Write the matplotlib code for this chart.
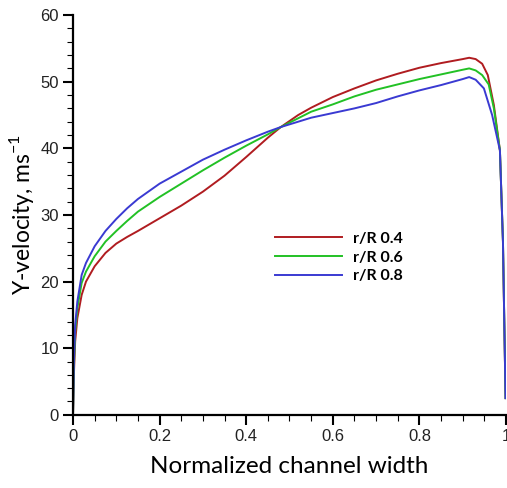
import numpy as np
import matplotlib
matplotlib.use("Agg")
import matplotlib.pyplot as plt
from matplotlib.ticker import MultipleLocator

plt.rcParams["mathtext.fontset"] = "custom"
plt.rcParams["mathtext.rm"] = "Lato"

# normalized channel width positions and Y-velocity (m/s)
x_r = [0, 0.002, 0.005, 0.01, 0.02, 0.03, 0.05, 0.075, 0.1, 0.125, 0.15, 0.2,
       0.25, 0.3, 0.35, 0.4, 0.45, 0.48, 0.52, 0.55, 0.6, 0.65, 0.7, 0.75,
       0.8, 0.85, 0.9, 0.915, 0.93, 0.945, 0.958, 0.972, 0.986, 0.993, 0.999]
v_r04 = [0, 6, 11, 14.5, 18, 20, 22.3, 24.3, 25.7, 26.7, 27.6, 29.5,
         31.4, 33.5, 35.9, 38.7, 41.6, 43.2, 45.0, 46.1, 47.7, 49.0, 50.2, 51.2,
         52.1, 52.8, 53.4, 53.6, 53.4, 52.7, 51.0, 46.5, 39.7, 26.0, 2.5]

x_g = [0, 0.002, 0.005, 0.01, 0.02, 0.03, 0.05, 0.075, 0.1, 0.125, 0.15, 0.2,
       0.25, 0.3, 0.35, 0.4, 0.45, 0.48, 0.55, 0.6, 0.65, 0.7, 0.75, 0.8,
       0.85, 0.9, 0.915, 0.93, 0.945, 0.96, 0.972, 0.986, 0.993, 0.999]
v_r06 = [0, 7, 12.5, 16, 19.8, 21.5, 23.8, 26, 27.6, 29.1, 30.5, 32.7,
         34.7, 36.7, 38.6, 40.4, 42.1, 43.2, 45.5, 46.6, 47.8, 48.8, 49.6, 50.4,
         51.1, 51.8, 52.0, 51.7, 51.0, 49.6, 46.0, 39.7, 26.0, 2.5]

x_b = [0, 0.002, 0.005, 0.01, 0.02, 0.03, 0.05, 0.075, 0.1, 0.125, 0.15, 0.2,
       0.25, 0.3, 0.35, 0.4, 0.45, 0.48, 0.55, 0.6, 0.65, 0.7, 0.75, 0.8,
       0.85, 0.9, 0.915, 0.93, 0.949, 0.968, 0.986, 0.993, 0.999]
v_r08 = [0, 8, 13.5, 17, 21, 22.8, 25.3, 27.6, 29.4, 31.0, 32.4, 34.7,
         36.5, 38.3, 39.8, 41.2, 42.5, 43.2, 44.6, 45.3, 46.0, 46.8, 47.8, 48.7,
         49.5, 50.4, 50.7, 50.3, 49.0, 45.0, 39.7, 26.0, 2.5]

labels = ["r/R 0.4", "r/R 0.6", "r/R 0.8"]
colors = ["#b01c20", "#22c125", "#3a3ad2"]

fig = plt.figure(figsize=(5.07, 4.88), dpi=100)
ax = fig.add_axes([0.144, 0.150, 0.854, 0.819])

for xs, vs, lab, c in zip([x_r, x_g, x_b], [v_r04, v_r06, v_r08], labels, colors):
    ax.plot(xs, vs, color=c, lw=1.4, label=lab)

ax.set_xlim(0, 1)
ax.set_ylim(0, 60)
ax.xaxis.set_minor_locator(MultipleLocator(0.05))
ax.yaxis.set_major_locator(MultipleLocator(10))
ax.yaxis.set_minor_locator(MultipleLocator(2))
ax.set_xticks([0, 0.2, 0.4, 0.6, 0.8, 1.0])
ax.set_xticklabels(["0", "0.2", "0.4", "0.6", "0.8", "1"])

for s in ["top", "right"]:
    ax.spines[s].set_visible(False)
for s in ["left", "bottom"]:
    ax.spines[s].set_linewidth(1.6)
ax.tick_params(which="major", length=7, width=1.5, direction="out",
               labelsize=12, pad=3)
ax.tick_params(which="minor", length=4, width=0.8, direction="out")
for t in ax.get_xticklabels() + ax.get_yticklabels():
    t.set_family(["Liberation Sans", "DejaVu Sans"])
    t.set_color("#222222")

ax.set_xlabel("Normalized channel width", fontsize=17.5, family="Lato",
              labelpad=9)
ax.set_ylabel("Y-velocity, ms$^{-1}$", fontsize=16.5,
              family="Lato", labelpad=3)

leg = ax.legend(loc="center left", bbox_to_anchor=(275 / 507, 1 - 257.5 / 488),
                bbox_transform=fig.transFigure, frameon=False,
                prop=dict(family="Lato", weight="bold", size=11.5),
                handlelength=4.2, handletextpad=0.7, labelspacing=0.28,
                borderpad=0, borderaxespad=0)

fig.savefig("out.png", dpi=100)
